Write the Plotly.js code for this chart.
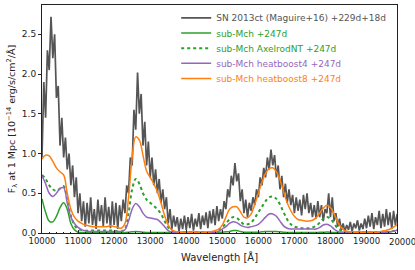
<!DOCTYPE html>
<html><head><meta charset="utf-8">
<script src="https://cdn.plot.ly/plotly-3.0.1.min.js"></script>
<style>html,body{margin:0;padding:0;background:#fff;}#chart{width:415px;height:270px;}</style>
</head><body><div id="chart"></div>
<script>
// Observed spectrum SN 2013ct, 50 A steps from 10000 A
const obsWave = [];
for (let w = 10000; w <= 19850; w += 50) obsWave.push(w);
const obsFlux = [
  0.95, 1.9, 1.45, 2.3, 2.05, 2.72, 2.2, 2.5, 1.7, 1.85,
  1.1, 1.45, 0.95, 1.2, 0.8, 1.0, 0.6, 0.85, 0.45, 0.7,
  0.25, 0.5, 0.15, 0.4, 0.08, 0.38, 0.12, 0.45, 0.1, 0.3,
  0.05, 0.42, 0.15, 0.35, 0.08, 0.45, 0.12, 0.33, 0.06, 0.4,
  0.1, 0.38, 0.05, 0.35, 0.15, 0.42, 0.25, 0.6, 0.5, 0.95,
  0.85, 1.55, 1.3, 2.02, 1.5, 1.75, 1.1, 1.4, 0.85, 1.15,
  0.7, 0.95, 0.6, 0.8, 0.5, 0.68, 0.38, 0.55, 0.3, 0.45,
  0.12, 0.3, 0.05, 0.22, 0.08, 0.2, 0.02, 0.18, 0.05, 0.22,
  0.04, 0.2, 0.06, 0.24, 0.03, 0.18, 0.08, 0.25, 0.05, 0.22,
  0.1, 0.26, 0.06, 0.28, 0.12, 0.3, 0.1, 0.34, 0.15, 0.3,
  0.18, 0.4, 0.3, 0.55, 0.45, 0.72, 0.6, 0.88, 0.65, 0.75,
  0.4, 0.55, 0.25, 0.42, 0.2, 0.38, 0.28, 0.45, 0.35, 0.55,
  0.45, 0.7, 0.6, 0.82, 0.7, 0.95, 0.8, 1.05, 0.85, 0.98,
  0.7, 0.85, 0.55, 0.72, 0.45, 0.62, 0.38, 0.55, 0.35, 0.48,
  0.25, 0.45, 0.28, 0.42, 0.22, 0.48, 0.3, 0.5, 0.25, 0.38,
  0.2, 0.35, 0.18, 0.4, 0.2, 0.35, 0.15, 0.3, 0.25, 0.5,
  0.2, 0.45, 0.15, 0.25, 0.08, 0.18, 0.04, 0.12, 0.02, 0.1,
  0.04, 0.14, 0.02, 0.12, 0.06, 0.16, 0.03, 0.12, 0.05, 0.18,
  0.06, 0.22, 0.08, 0.25, 0.05, 0.2, 0.1, 0.28, 0.06, 0.24,
  0.08, 0.3, 0.1, 0.26, 0.05, 0.28, 0.1, 0.24
];

// Model spectra, 100 A steps from 10000 A
const modelWave = [];
for (let w = 10000; w <= 19900; w += 100) modelWave.push(w);

const subMch = [
  0.43, 0.26, 0.15, 0.14, 0.21, 0.32, 0.38, 0.3, 0.12, 0.04,
  0.01, 0.005, 0.005, 0.005, 0.005, 0.005, 0.005, 0.005, 0.005, 0.005,
  0.005, 0.005, 0.005, 0.005, 0.01, 0.015, 0.02, 0.015, 0.01, 0.005,
  0.005, 0.005, 0.005, 0.005, 0.005, 0.005, 0.005, 0.005, 0.005, 0.005,
  0.005, 0.005, 0.005, 0.005, 0.005, 0.005, 0.005, 0.005, 0.005, 0.005,
  0.01, 0.015, 0.02, 0.03, 0.03, 0.02, 0.01, 0.01, 0.01, 0.01,
  0.01, 0.015, 0.02, 0.02, 0.02, 0.02, 0.015, 0.01, 0.005, 0.005,
  0.005, 0.005, 0.005, 0.005, 0.005, 0.005, 0.005, 0.01, 0.01, 0.012,
  0.01, 0.005, 0.005, 0.005, 0.005, 0.005, 0.005, 0.005, 0.005, 0.005,
  0.005, 0.005, 0.005, 0.005, 0.005, 0.01, 0.015, 0.02, 0.03, 0.04
];

const axelrodNT = [
  0.73, 0.68, 0.6, 0.55, 0.53, 0.56, 0.59, 0.42, 0.22, 0.1,
  0.05, 0.04, 0.03, 0.03, 0.03, 0.03, 0.03, 0.03, 0.03, 0.03,
  0.03, 0.02, 0.02, 0.05, 0.25, 0.55, 0.68, 0.62, 0.5, 0.42,
  0.38, 0.34, 0.3, 0.24, 0.15, 0.07, 0.03, 0.01, 0.01, 0.01,
  0.01, 0.01, 0.01, 0.01, 0.01, 0.01, 0.01, 0.01, 0.01, 0.03,
  0.07, 0.12, 0.17, 0.2, 0.19, 0.15, 0.11, 0.11, 0.13, 0.19,
  0.26, 0.33, 0.4, 0.45, 0.46, 0.43, 0.36, 0.26, 0.17, 0.11,
  0.08, 0.07, 0.06, 0.06, 0.06, 0.07, 0.09, 0.13, 0.18, 0.2,
  0.18, 0.12, 0.06, 0.03, 0.01, 0.01, 0.01, 0.01, 0.01, 0.01,
  0.01, 0.01, 0.01, 0.01, 0.01, 0.01, 0.01, 0.02, 0.03, 0.04
];

const heatboost4 = [
  0.72, 0.62, 0.5, 0.46, 0.5, 0.56, 0.57, 0.38, 0.2, 0.12,
  0.07, 0.04, 0.03, 0.02, 0.02, 0.02, 0.02, 0.02, 0.02, 0.02,
  0.02, 0.02, 0.02, 0.04, 0.15, 0.3, 0.37, 0.33, 0.25, 0.2,
  0.19, 0.18, 0.17, 0.13, 0.08, 0.03, 0.01, 0.01, 0.01, 0.01,
  0.01, 0.01, 0.01, 0.01, 0.01, 0.01, 0.01, 0.01, 0.01, 0.02,
  0.05, 0.08, 0.12, 0.14, 0.13, 0.1, 0.08, 0.07, 0.08, 0.09,
  0.11, 0.15, 0.2, 0.24, 0.24, 0.21, 0.15, 0.09, 0.06, 0.05,
  0.05, 0.05, 0.05, 0.05, 0.05, 0.05, 0.05, 0.07, 0.1, 0.11,
  0.09, 0.05, 0.02, 0.01, 0.01, 0.01, 0.01, 0.01, 0.01, 0.01,
  0.01, 0.01, 0.01, 0.01, 0.01, 0.01, 0.01, 0.02, 0.03, 0.04
];

const heatboost8 = [
  0.93, 0.98, 0.97, 0.9, 0.82, 0.77, 0.73, 0.5, 0.3, 0.2,
  0.15, 0.12, 0.1, 0.09, 0.08, 0.08, 0.08, 0.08, 0.08, 0.09,
  0.08, 0.07, 0.06, 0.12, 0.45, 0.95, 1.21, 1.17, 0.98, 0.78,
  0.7, 0.62, 0.52, 0.38, 0.22, 0.1, 0.04, 0.02, 0.01, 0.01,
  0.01, 0.01, 0.01, 0.01, 0.01, 0.01, 0.01, 0.02, 0.03, 0.05,
  0.1, 0.2, 0.3, 0.33, 0.33, 0.27, 0.2, 0.19, 0.24, 0.36,
  0.5, 0.64, 0.75, 0.81, 0.82, 0.77, 0.67, 0.52, 0.38, 0.28,
  0.21, 0.17, 0.16, 0.15, 0.15, 0.16, 0.19, 0.25, 0.31, 0.35,
  0.32, 0.24, 0.14, 0.07, 0.03, 0.02, 0.01, 0.01, 0.01, 0.01,
  0.01, 0.01, 0.01, 0.01, 0.02, 0.03, 0.04, 0.06, 0.09, 0.11
];

const seriesNames = [
  'SN 2013ct (Maguire+16) +229d+18d',
  'sub-Mch +247d',
  'sub-Mch AxelrodNT +247d',
  'sub-Mch heatboost4 +247d',
  'sub-Mch heatboost8 +247d'
];
const seriesColors = ['#555555', '#2ca02c', '#2ca02c', '#9467bd', '#ff7f0e'];
const legendY = [0.9434, 0.8768, 0.8106, 0.744, 0.6778];

const FONT = 'DejaVu Sans, sans-serif';

const traces = [
  {x: obsWave, y: obsFlux, mode: 'lines', name: seriesNames[0], legend: 'legend',
   line: {color: seriesColors[0], width: 1.7}},
  {x: modelWave, y: subMch, mode: 'lines', name: seriesNames[1], legend: 'legend2',
   line: {color: seriesColors[1], width: 1.5, shape: 'spline'}},
  {x: modelWave, y: axelrodNT, mode: 'lines', name: seriesNames[2], legend: 'legend3',
   line: {color: seriesColors[2], width: 2, dash: 'dot', shape: 'spline'}},
  {x: modelWave, y: heatboost4, mode: 'lines', name: seriesNames[3], legend: 'legend4',
   line: {color: seriesColors[3], width: 1.5, shape: 'spline'}},
  {x: modelWave, y: heatboost8, mode: 'lines', name: seriesNames[4], legend: 'legend5',
   line: {color: seriesColors[4], width: 1.5, shape: 'spline'}}
];

function mkLegend(i) {
  return {x: 0.378, y: legendY[i], xanchor: 'left', yanchor: 'middle',
    bgcolor: 'rgba(0,0,0,0)', borderwidth: 0, itemwidth: 30,
    font: {family: FONT, size: 9, color: seriesColors[i]}};
}

const xMax = 19845;
const layout = {
  width: 415, height: 270,
  margin: {l: 42, r: 18, t: 3, b: 37},
  paper_bgcolor: '#fff', plot_bgcolor: '#fff',
  showlegend: true,
  legend: mkLegend(0), legend2: mkLegend(1), legend3: mkLegend(2),
  legend4: mkLegend(3), legend5: mkLegend(4),
  font: {family: FONT, size: 9, color: '#222'},
  xaxis: {
    range: [10000, xMax], dtick: 1000, tick0: 10000, tickformat: 'd',
    showgrid: false, zeroline: false,
    showline: true, mirror: true, linecolor: '#222', linewidth: 1,
    ticks: 'inside', ticklen: 3, tickcolor: '#222',
    minor: {dtick: 200, ticks: 'inside', ticklen: 1.5, tickcolor: '#222'},
    tickfont: {family: FONT, size: 8.5, color: '#222'},
    title: {text: 'Wavelength [Å]', font: {family: FONT, size: 10, color: '#222'}, standoff: 8}
  },
  yaxis: {
    range: [0, 2.869], dtick: 0.5, tick0: 0, tickformat: '.1f',
    showgrid: false, zeroline: false,
    showline: true, mirror: true, linecolor: '#222', linewidth: 1,
    ticks: 'outside', ticklen: 3, tickcolor: '#222',
    tickfont: {family: FONT, size: 9, color: '#222'},
    title: {text: 'F<sub>λ</sub> at 1 Mpc [10<sup>−14</sup> erg/s/cm<sup>2</sup>/Å]',
            font: {family: FONT, size: 9.5, color: '#222'}, standoff: 4}
  },
  annotations: [{
    xref: 'paper', yref: 'paper', x: (20000 - 10000) / (xMax - 10000), y: 0,
    yanchor: 'top', xanchor: 'center', yshift: -2, showarrow: false,
    text: '20000', font: {family: FONT, size: 8.5, color: '#222'}
  }]
};

Plotly.newPlot('chart', traces, layout, {staticPlot: true, displayModeBar: false});
</script>
</body></html>
